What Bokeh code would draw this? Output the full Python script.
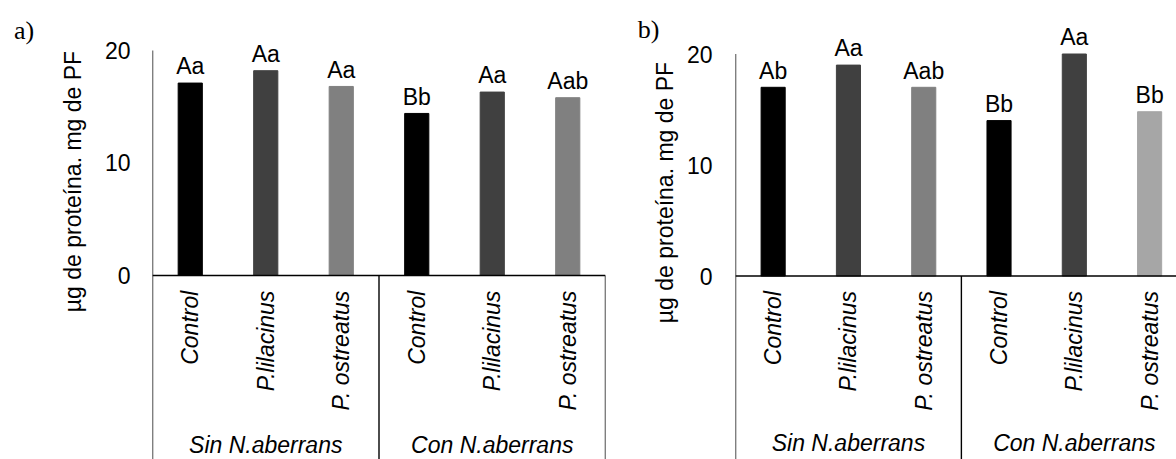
from bokeh.plotting import figure
from bokeh.layouts import row
from bokeh.models import Range1d, FixedTicker, ColumnDataSource
from bokeh.core.properties import value
from bokeh.embed import file_html
from bokeh.resources import INLINE
import math

# Treatments (inner level) and nematode condition (outer level)
categories = ["Control", "P.lilacinus", "P. ostreatus"]
groups = ["Sin N.aberrans", "Con N.aberrans"]

# Protein content, panel a) and b)
values_a = [17.1, 18.2, 16.8, 14.4, 16.3, 15.8]
letters_a = ["Aa", "Aa", "Aa", "Bb", "Aa", "Aab"]
values_b = [17.0, 19.0, 17.0, 14.0, 20.0, 14.8]
letters_b = ["Ab", "Aa", "Aab", "Bb", "Aa", "Bb"]

colors_a = ["#000000", "#404040", "#808080", "#000000", "#404040", "#808080"]
colors_b = ["#000000", "#404040", "#808080", "#000000", "#404040", "#a6a6a6"]

y_ticks = [0, 10, 20]
y_title = "µg de proteína. mg de PF"

FONT = "Liberation Sans"
SIZE = "23px"
H = 459


def margin(width, tag, tag_xy, title_xy):
    """Narrow strip left of a panel holding the panel tag and the y-axis title."""
    s = figure(width=width, height=H, output_backend="svg", toolbar_location=None,
               x_range=Range1d(0, width), y_range=Range1d(H, 0),
               x_axis_location=None, y_axis_location=None,
               min_border=0, min_border_left=0, min_border_right=0,
               min_border_top=0, min_border_bottom=0)
    s.outline_line_color = None
    s.xgrid.visible = False
    s.ygrid.visible = False
    s.text(x=[title_xy[0]], y=[title_xy[1]], text=[y_title], angle=math.pi / 2,
           text_align="center", text_baseline="middle",
           text_font=value(FONT), text_font_size=SIZE, text_color="black")
    s.text(x=[tag_xy[0]], y=[tag_xy[1]], text=[tag],
           text_align="center", text_baseline="middle",
           text_font=value("Liberation Serif"), text_font_size="26px", text_color="black")
    return s


def panel(vals, letters, colors, width, left, right, x_end, y_start, y_end, standoff):
    p = figure(width=width, height=H, output_backend="svg", toolbar_location=None,
               x_range=Range1d(0, x_end), y_range=Range1d(y_start, y_end),
               x_axis_location=None, min_border_left=left, min_border_right=right,
               min_border_top=0, min_border_bottom=0)
    p.outline_line_color = None
    p.xgrid.visible = False
    p.ygrid.visible = False

    ax = p.yaxis[0]
    ax.ticker = FixedTicker(ticks=y_ticks)
    ax.axis_line_color = None
    ax.major_tick_out = 0
    ax.major_tick_in = 0
    ax.minor_tick_out = 0
    ax.minor_tick_in = 0
    ax.major_label_standoff = standoff
    ax.major_label_text_font = FONT
    ax.major_label_text_font_size = SIZE
    ax.major_label_text_color = "black"

    n = len(vals)
    xs = [i + 0.5 for i in range(n)]
    gap = 1.5  # space between bar top and its letters, in axis units
    src = ColumnDataSource(dict(x=xs, top=vals, color=colors, label=letters,
                                ly=[v + gap for v in vals]))
    p.vbar(x="x", top="top", bottom=0, width=0.32, color="color", source=src)
    p.text(x="x", y="ly", text="label", source=src,
           text_align="center", text_baseline="middle",
           text_font=value(FONT), text_font_size=SIZE, text_color="black")

    # axis line, baseline and table separators
    bottom = y_start - 1
    p.segment(x0=[0], y0=[bottom], x1=[0], y1=[max(y_ticks)], line_color="black", line_width=1.4)
    p.segment(x0=[0], y0=[0], x1=[n], y1=[0], line_color="black", line_width=1.4)
    k = len(categories)
    seps = [g * k for g in range(1, len(groups) + 1)]
    p.segment(x0=seps, y0=[bottom] * len(seps), x1=seps, y1=[0] * len(seps),
              line_color="black", line_width=1.4)

    # category labels (rotated) and group labels
    cat_labels = categories * len(groups)
    p.text(x=xs, y=[-1.35] * n, text=cat_labels, angle=math.pi / 2,
           text_align="right", text_baseline="middle",
           text_font=value(FONT), text_font_size=SIZE, text_font_style="italic",
           text_color="black")
    gx = [g * k + k / 2 for g in range(len(groups))]
    p.text(x=gx, y=[-15.05] * len(groups), text=groups,
           text_align="center", text_baseline="middle",
           text_font=value(FONT), text_font_size=SIZE, text_font_style="italic",
           text_color="black")
    return p


sa = margin(92, "a)", (23.5, 30), (72, 181))
pa = panel(values_a, letters_a, colors_a, width=528, left=60, right=15, x_end=6.0,
           y_start=-16.36, y_end=24.44, standoff=22)
sb = margin(62, "b)", (28, 29), (44, 192))
pb = panel(values_b, letters_b, colors_b, width=494, left=53, right=0, x_end=5.857,
           y_start=-16.53, y_end=24.82, standoff=23)

layout = row(sa, pa, sb, pb)
open("out.html", "w").write(file_html(layout, INLINE))
